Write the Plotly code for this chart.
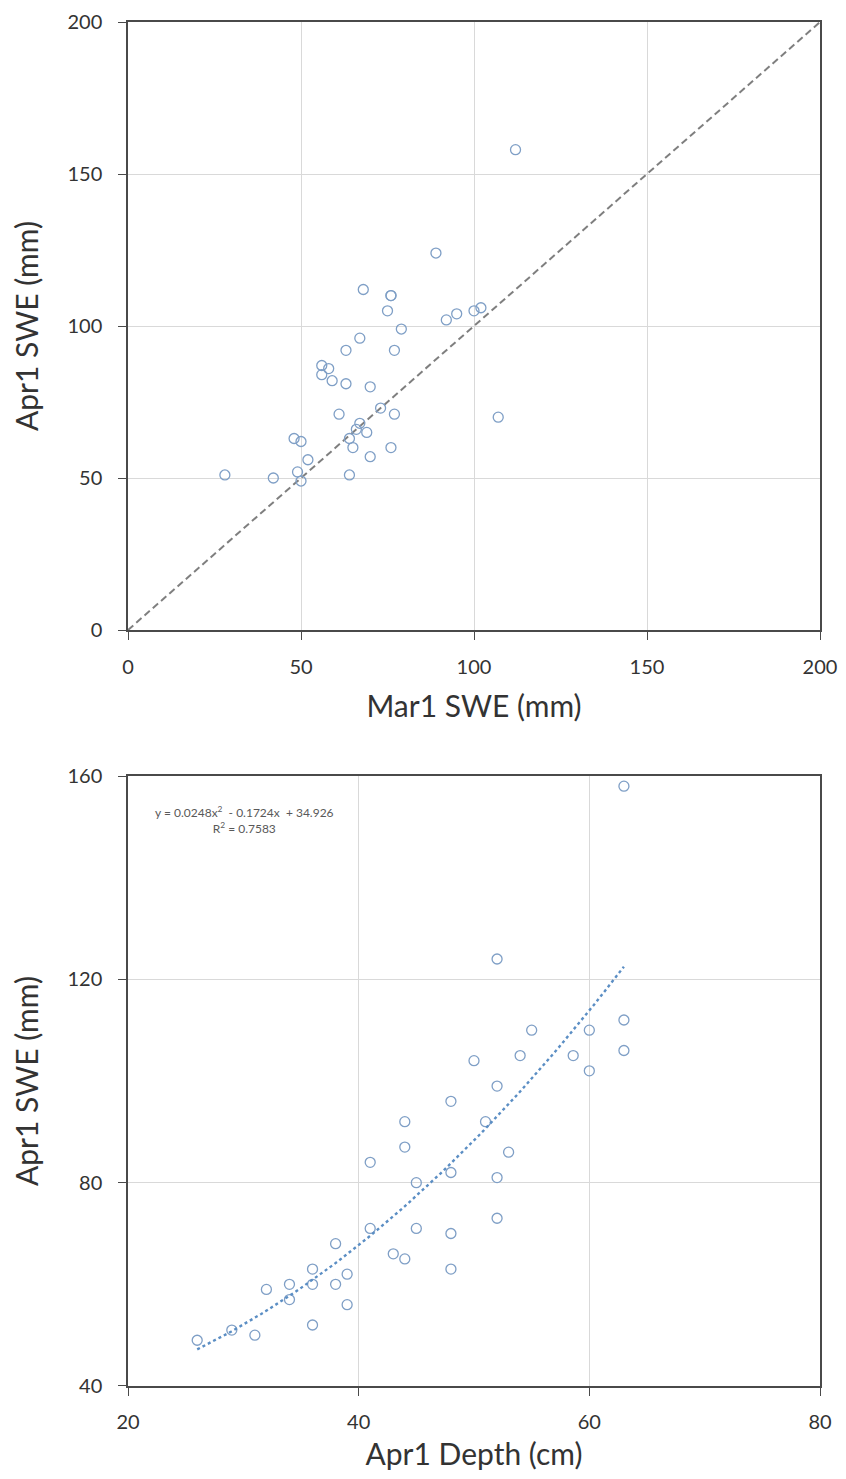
import plotly.graph_objects as go
from plotly.subplots import make_subplots

# Top panel: Mar1 SWE vs Apr1 SWE
mar1_swe = [28, 42, 48, 49, 50, 50, 52, 56, 56, 58, 59, 61, 63, 63, 64, 64, 65, 66, 67, 67,
            68, 69, 70, 70, 73, 75, 76, 76, 76, 77, 77, 79, 89, 92, 95, 100, 102, 107, 112]
apr1_swe_top = [51, 50, 63, 52, 62, 49, 56, 87, 84, 86, 82, 71, 92, 81, 51, 63, 60, 66, 68, 96,
                112, 65, 80, 57, 73, 105, 110, 110, 60, 92, 71, 99, 124, 102, 104, 105, 106, 70, 158]
one_to_one = [0, 200]

# Bottom panel: Apr1 Depth vs Apr1 SWE
apr1_depth = [26, 29, 31, 32, 34, 34, 36, 36, 36, 38, 38, 39, 39, 41, 41, 43, 44, 44, 44, 45,
              45, 48, 48, 48, 48, 50, 51, 52, 52, 52, 52, 53, 54, 55, 58.6, 60, 60, 63, 63, 63]
apr1_swe_bot = [49, 51, 50, 59, 60, 57, 63, 60, 52, 68, 60, 62, 56, 84, 71, 66, 92, 87, 65, 80,
                71, 96, 82, 70, 63, 104, 92, 124, 99, 81, 73, 86, 105, 110, 105, 110, 102, 158, 112, 106]
poly_coef = [0.0248, -0.1724, 34.926]
r2 = 0.7583

top_ticks = [0, 50, 100, 150, 200]
bot_xticks = [20, 40, 60, 80]
bot_yticks = [40, 80, 120, 160]

marker_color = "#7f9fc6"
axis_color = "#4a4a4a"
grid_color = "#d9d9d9"
text_color = "#333333"
font_family = "Lato, 'Open Sans', sans-serif"

fig = make_subplots(rows=2, cols=1, vertical_spacing=0.1068)

fig.add_trace(go.Scatter(x=one_to_one, y=one_to_one, mode="lines",
                         line=dict(color="#7f7f7f", width=2, dash="7px,4px"),
                         showlegend=False, hoverinfo="skip"), row=1, col=1)
fig.add_trace(go.Scatter(x=mar1_swe, y=apr1_swe_top, mode="markers",
                         marker=dict(symbol="circle-open", size=10, color=marker_color,
                                     line=dict(width=1.3, color=marker_color)),
                         showlegend=False), row=1, col=1)

# polynomial trendline across observed depth range
xs = [min(apr1_depth) + i * (max(apr1_depth) - min(apr1_depth)) / 100 for i in range(101)]
ys = [poly_coef[0] * x ** 2 + poly_coef[1] * x + poly_coef[2] for x in xs]
fig.add_trace(go.Scatter(x=apr1_depth, y=apr1_swe_bot, mode="markers",
                         marker=dict(symbol="circle-open", size=10, color=marker_color,
                                     line=dict(width=1.3, color=marker_color)),
                         showlegend=False), row=2, col=1)
fig.add_trace(go.Scatter(x=xs, y=ys, mode="lines",
                         line=dict(color="#5b8ec4", width=2.4, dash="dot"),
                         showlegend=False, hoverinfo="skip"), row=2, col=1)

axis_common = dict(showline=True, linecolor=axis_color, linewidth=1.5, mirror=True,
                   showgrid=True, gridcolor=grid_color, gridwidth=1, zeroline=False,
                   ticks="outside", ticklen=8, tickcolor=axis_color, automargin=False,
                   ticklabeloverflow="allow",
                   tickfont=dict(size=20, color=text_color, family=font_family))
title_font = dict(size=30, color=text_color, family=font_family)

fig.update_xaxes(range=[0, 200], tickvals=top_ticks, row=1, col=1, ticklabelstandoff=10,
                 title=dict(text="Mar1 SWE (mm)", font=title_font, standoff=19), **axis_common)
fig.update_yaxes(range=[0, 200], tickvals=top_ticks, row=1, col=1, ticklabelstandoff=12,
                 title=dict(text="Apr1 SWE (mm)", font=title_font, standoff=21), **axis_common)
fig.update_xaxes(range=[20, 80], tickvals=bot_xticks, row=2, col=1, ticklabelstandoff=9,
                 title=dict(text="Apr1 Depth (cm)", font=title_font, standoff=22), **axis_common)
fig.update_yaxes(range=[40, 160], tickvals=bot_yticks, row=2, col=1, ticklabelstandoff=12,
                 title=dict(text="Apr1 SWE (mm)", font=title_font, standoff=21), **axis_common)

eq_text = (f"y = {poly_coef[0]}x<sup>2</sup>  - {abs(poly_coef[1])}x  + {poly_coef[2]}"
           f"<br>R<sup>2</sup> = {r2}")
fig.add_annotation(text=eq_text, xref="x2", yref="y2", x=30.14, y=151.4,
                   showarrow=False, align="center",
                   font=dict(size=12, color="#595959", family=font_family))

fig.update_layout(width=838, height=1463, plot_bgcolor="white", paper_bgcolor="white",
                  margin=dict(l=120, r=26, t=14, b=85, autoexpand=False),
                  font=dict(family=font_family))
fig.update_yaxes(domain=[0.55425, 1.0], row=1, col=1)
fig.update_yaxes(domain=[0.0, 0.44721], row=2, col=1)

fig.write_html("out.html")
